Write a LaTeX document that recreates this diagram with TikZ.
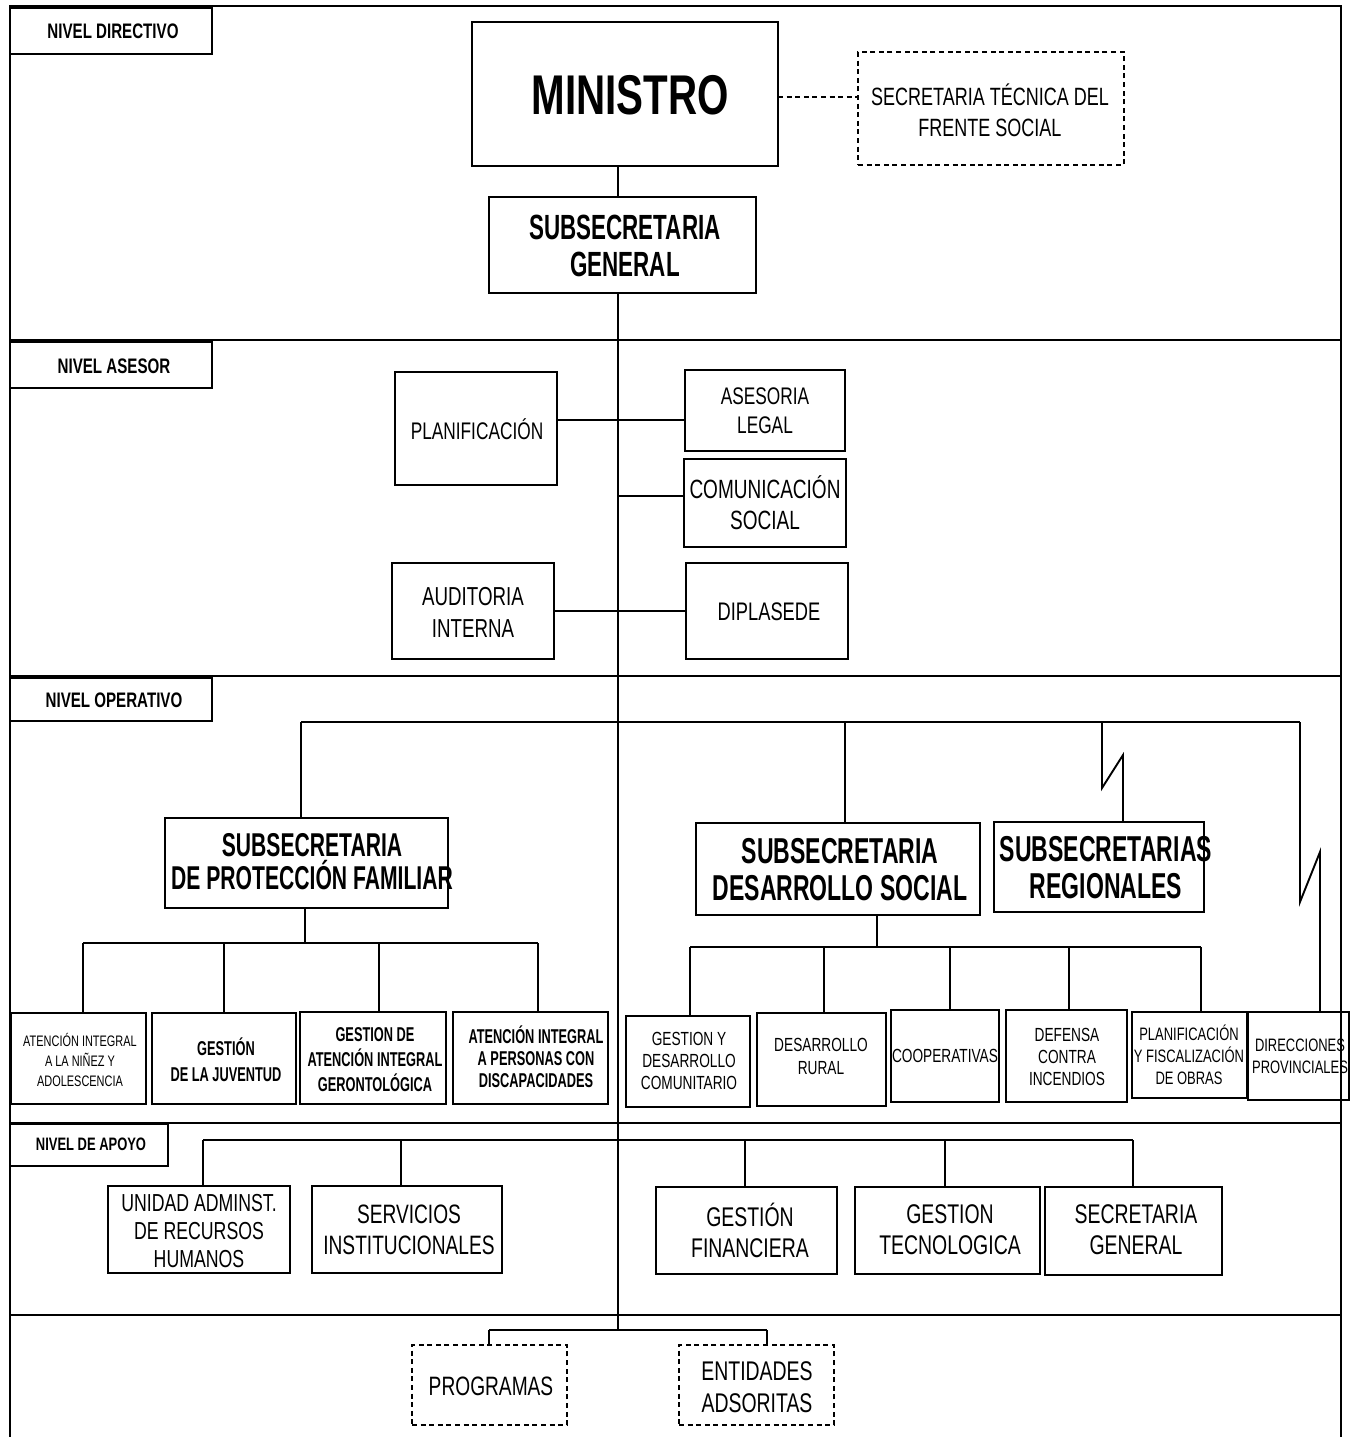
\documentclass[tikz,border=0pt]{standalone}
\usepackage{fontspec}
\setmainfont{Liberation Sans}[FakeStretch=0.72]
\newfontfamily\bcond{Liberation Sans}[FakeStretch=0.64]
\newcommand{\fz}[2]{\fontsize{#1}{#2}\selectfont}
\newcommand{\bx}[6][]{\node[box,#1,minimum width={(#5-#3)*0.5pt},minimum height={(#6-#4)*0.5pt}] (#2) at ({(#3+#5)/2},{(#4+#6)/2}) {};}
\newcommand{\tx}[5]{\node[txt,font=#4] (#1) at (#2,#3) {#5};}
\begin{document}
\begin{tikzpicture}[x=0.5pt,y=-0.5pt,line width=0.95pt,
  box/.style={draw,rectangle,inner sep=0pt,outer sep=0pt},
  dbox/.style={dash pattern=on 2.5pt off 1.8pt},
  dline/.style={dash pattern=on 2.5pt off 1.8pt},
  txt/.style={align=center,inner sep=0pt}]
\fill[white] (0,0) rectangle (1354,1437);
\useasboundingbox (0,0) rectangle (1354,1437);
% frame and bands
\draw (10,1437) -- (10,6) -- (1341,6) -- (1341,1437);
\draw (10,340) -- (1341,340);
\draw (10,676) -- (1341,676);
\draw (10,1123) -- (1341,1123);
\draw (10,1315) -- (1341,1315);
% level labels
\bx{lab1}{10}{8}{212}{54}   \tx{lab1t}{113}{31}{\fz{10.5}{12}\bfseries}{NIVEL DIRECTIVO}
\bx{lab2}{10}{342}{212}{388} \tx{lab2t}{114}{366}{\fz{10.5}{12}\bfseries}{NIVEL ASESOR}
\bx{lab3}{10}{678}{212}{721} \tx{lab3t}{114}{700}{\fz{10.5}{12}\bfseries}{NIVEL OPERATIVO}
\bx{lab4}{10}{1124}{168}{1166} \tx{lab4t}{91}{1144}{\fz{9}{10}\bfseries}{NIVEL DE APOYO}
% directivo
\bx{min}{472}{22}{778}{166} \tx{mint}{630}{95}{\fz{28}{30}\bfseries}{MINISTRO}
\bx[dbox]{stfs}{858}{52}{1124}{165} \tx{stfst}{990}{110}{\fz{12.5}{15.5}}{SECRETARIA TÉCNICA DEL\\FRENTE SOCIAL}
\bx{subg}{489}{197}{756}{293} \tx{subgt}{625}{246}{\bcond\bfseries\fz{17.5}{18.5}}{SUBSECRETARIA\\GENERAL}
% asesor
\bx{plan}{395}{372}{557}{485} \tx{plant}{477}{429}{\fz{12}{14}}{PLANIFICACIÓN}
\bx{al}{685}{370}{845}{451} \tx{alt}{765}{411}{\fz{12}{14.5}}{ASESORIA\\LEGAL}
\bx{cs}{684}{459}{846}{547} \tx{cst}{765}{503}{\fz{13.2}{15.5}}{COMUNICACIÓN\\SOCIAL}
\bx{ai}{392}{563}{554}{659} \tx{ait}{473}{612}{\fz{13}{16}}{AUDITORIA\\INTERNA}
\bx{dip}{686}{563}{848}{659} \tx{dipt}{769}{612}{\fz{12.7}{14}}{DIPLASEDE}
% operativo
\bx{pf}{165}{818}{448}{908} \tx{pft}{312}{862}{\bcond\bfseries\fz{16.5}{16.5}}{SUBSECRETARIA\\DE PROTECCIÓN FAMILIAR}
\bx{ds}{696}{823}{980}{915} \tx{dst}{840}{870}{\bcond\bfseries\fz{18}{18.5}}{SUBSECRETARIA\\DESARROLLO SOCIAL}
\bx{sr}{994}{822}{1204}{912} \tx{srt}{1106}{868}{\bcond\bfseries\fz{18}{18.5}}{SUBSECRETARIAS\\REGIONALES}
\bx{pf1}{11}{1013}{146}{1104} \tx{pf1t}{80}{1060}{\fz{7.6}{10}}{ATENCIÓN INTEGRAL\\A LA NIÑEZ Y\\ADOLESCENCIA}
\bx{pf2}{152}{1013}{296}{1104} \tx{pf2t}{226}{1060}{\bcond\bfseries\fz{10}{13}}{GESTIÓN\\DE LA JUVENTUD}
\bx{pf3}{300}{1012}{446}{1104} \tx{pf3t}{375}{1060}{\bcond\bfseries\fz{10}{12.5}}{GESTION DE\\ATENCIÓN INTEGRAL\\GERONTOLÓGICA}
\bx{pf4}{453}{1012}{608}{1104} \tx{pf4t}{536}{1057}{\bcond\bfseries\fz{10}{11}}{ATENCIÓN INTEGRAL\\A PERSONAS CON\\DISCAPACIDADES}
\bx{ds1}{626}{1016}{750}{1107} \tx{ds1t}{689}{1061}{\fz{9.5}{11}}{GESTION Y\\DESARROLLO\\COMUNITARIO}
\bx{ds2}{757}{1013}{886}{1106} \tx{ds2t}{821}{1056}{\fz{9.5}{11.5}}{DESARROLLO\\RURAL}
\bx{ds3}{891}{1010}{999}{1102} \tx{ds3t}{945}{1056}{\fz{9.5}{11}}{COOPERATIVAS}
\bx{ds4}{1006}{1010}{1127}{1102} \tx{ds4t}{1067}{1057}{\fz{9.5}{11}}{DEFENSA\\CONTRA\\INCENDIOS}
\bx{ds5}{1132}{1012}{1247}{1098} \tx{ds5t}{1189}{1055}{\fz{9}{11}}{PLANIFICACIÓN\\Y FISCALIZACIÓN\\DE OBRAS}
\bx{dp}{1248}{1012}{1349}{1100} \tx{dpt}{1300}{1056}{\fz{9}{11}}{DIRECCIONES\\PROVINCIALES}
% apoyo
\bx{a1}{108}{1186}{290}{1273} \tx{a1t}{199}{1231}{\fz{12.3}{14}}{UNIDAD ADMINST.\\DE RECURSOS\\HUMANOS}
\bx{a2}{312}{1186}{502}{1273} \tx{a2t}{409}{1230}{\fz{13.3}{15.5}}{SERVICIOS\\INSTITUCIONALES}
\bx{a3}{656}{1187}{837}{1274} \tx{a3t}{750}{1230}{\fz{13.5}{15.5}}{GESTIÓN\\FINANCIERA}
\bx{a4}{855}{1187}{1040}{1274} \tx{a4t}{950}{1230}{\fz{13.5}{15.5}}{GESTION\\TECNOLOGICA}
\bx{a5}{1045}{1187}{1222}{1275} \tx{a5t}{1136}{1230}{\fz{13.5}{15.5}}{SECRETARIA\\GENERAL}
% bottom
\bx[dbox]{prg}{412}{1345}{567}{1425} \tx{prgt}{491}{1386}{\fz{13.3}{16}}{PROGRAMAS}
\bx[dbox]{ent}{679}{1345}{834}{1425} \tx{entt}{757}{1387}{\fz{13.5}{16}}{ENTIDADES\\ADSORITAS}
% connectors
\coordinate (tk) at (618,0);
\coordinate (bot) at (618,1330);
\draw (min.south -| tk) -- (subg.north -| tk);
\draw (subg.south -| tk) -- (bot);
\draw[dline] (min.east |- 0,97) -- (stfs.west |- 0,97);
\draw (plan.east |- 0,420) -- (al.west |- 0,420);
\draw (tk |- 0,496) -- (cs.west |- 0,496);
\draw (ai) -- (dip);
% operativo bus
\coordinate (ob1) at (301,722);
\coordinate (ob2) at (845,722);
\coordinate (ob3) at (1102,722);
\coordinate (ob4) at (1300,722);
\draw (ob1) -- (ob4);
\draw (ob1) -- (ob1 |- pf.north);
\draw (ob2) -- (ob2 |- ds.north);
\coordinate (z1a) at (1102,788);
\coordinate (z1b) at (1123,755);
\draw (ob3) -- (z1a) -- (z1b) -- (z1b |- sr.north);
\coordinate (z2a) at (1300,902);
\coordinate (z2b) at (1320,852);
\draw (ob4) -- (z2a) -- (z2b) -- (z2b |- dp.north);
% proteccion familiar children
\coordinate (pb0) at (305,943);
\coordinate (pb1) at (83,943);
\coordinate (pb2) at (224,943);
\coordinate (pb3) at (379,943);
\coordinate (pb4) at (538,943);
\draw (pf.south -| pb0) -- (pb0);
\draw (pb1) -- (pb4);
\draw (pb1) -- (pb1 |- pf1.north);
\draw (pb2) -- (pb2 |- pf2.north);
\draw (pb3) -- (pb3 |- pf3.north);
\draw (pb4) -- (pb4 |- pf4.north);
% desarrollo social children
\coordinate (db0) at (877,947);
\coordinate (db1) at (690,947);
\coordinate (db2) at (824,947);
\coordinate (db3) at (950,947);
\coordinate (db4) at (1069,947);
\coordinate (db5) at (1201,947);
\draw (ds.south -| db0) -- (db0);
\draw (db1) -- (db5);
\draw (db1) -- (db1 |- ds1.north);
\draw (db2) -- (db2 |- ds2.north);
\draw (db3) -- (db3 |- ds3.north);
\draw (db4) -- (db4 |- ds4.north);
\draw (db5) -- (db5 |- ds5.north);
% apoyo bus
\coordinate (ab1) at (203,1140);
\coordinate (ab2) at (401,1140);
\coordinate (ab3) at (745,1140);
\coordinate (ab4) at (945,1140);
\coordinate (ab5) at (1133,1140);
\draw (ab1) -- (ab5);
\draw (ab1) -- (ab1 |- a1.north);
\draw (ab2) -- (ab2 |- a2.north);
\draw (ab3) -- (ab3 |- a3.north);
\draw (ab4) -- (ab4 |- a4.north);
\draw (ab5) -- (ab5 |- a5.north);
% bottom bus
\coordinate (bb1) at (489,1330);
\coordinate (bb2) at (767,1330);
\draw (bb1) -- (bb2);
\draw (bb1) -- (bb1 |- prg.north);
\draw (bb2) -- (bb2 |- ent.north);
\end{tikzpicture}
\end{document}
